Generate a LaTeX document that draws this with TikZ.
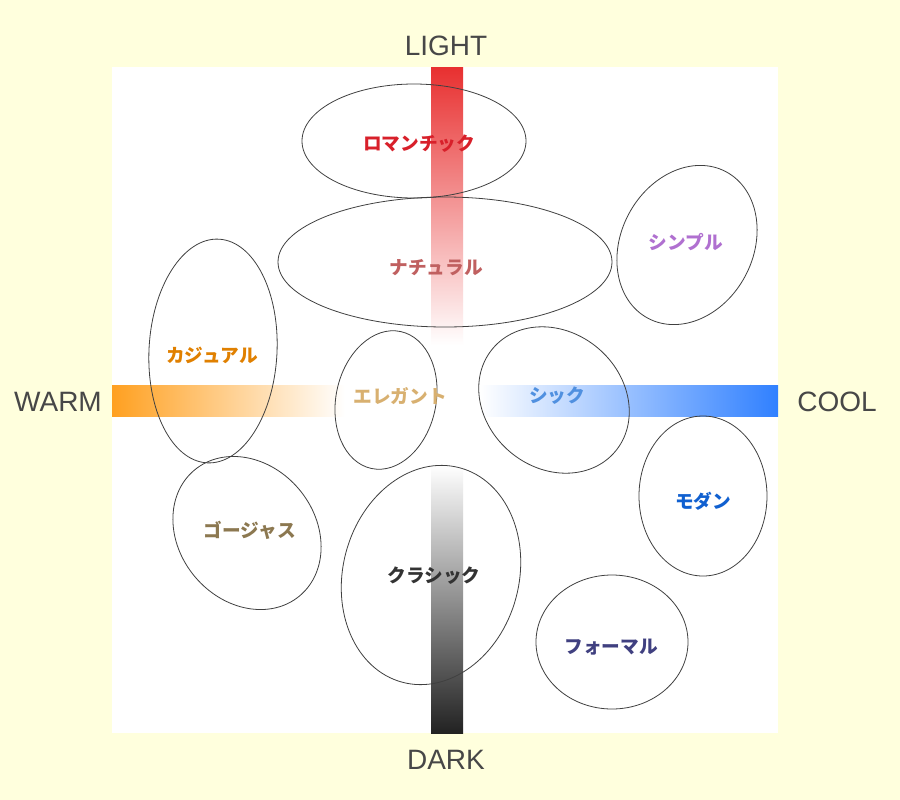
\documentclass[tikz,border=0pt]{standalone}
\usepackage{fontspec}
\setmainfont{Liberation Sans}
\newfontfamily\jp{Noto Sans CJK JP}
\begin{document}
\begin{tikzpicture}[x=0.75pt,y=-0.75pt]
\tikzset{ell/.style={draw=black!75,line width=0.6pt},
 jl/.style={font=\jp\bfseries\fontsize{14}{16}\selectfont},
 ax/.style={font=\fontsize{21}{24}\selectfont,text=black!72}}
\fill[fill={rgb,255:red,255;green,255;blue,221}] (0,0) rectangle (900,800);
\useasboundingbox (0,0) rectangle (900,800);
\fill[white] (112,67) rectangle (778,733);
\shade[top color={rgb,255:red,232;green,48;blue,48}, bottom color=white] (431,67) rectangle (463,345);
\shade[top color=white, bottom color={rgb,255:red,34;green,34;blue,34}] (431,465) rectangle (463,733);
\shade[left color={rgb,255:red,255;green,160;blue,32}, right color=white] (112,385) rectangle (345,416);
\shade[left color=white, right color={rgb,255:red,48;green,128;blue,255}] (480,385) rectangle (778,416);
\draw[ell] (414,141) ellipse [x radius=112, y radius=57];
\draw[ell] (445,262) ellipse [x radius=167, y radius=65];
\draw[ell,rotate around={-28:(687,245)}] (687,245) ellipse [x radius=66, y radius=83];
\draw[ell,rotate around={-3:(213,351)}] (213,351) ellipse [x radius=64, y radius=112];
\draw[ell,rotate around={-12:(386,400)}] (386,400) ellipse [x radius=50, y radius=70];
\draw[ell,rotate around={-40:(554,400)}] (554,400) ellipse [x radius=80, y radius=68];
\draw[ell] (703,496) ellipse [x radius=64, y radius=80];
\draw[ell,rotate around={40:(247,533)}] (247,533) ellipse [x radius=68, y radius=82];
\draw[ell,rotate around={-15:(431,575)}] (431,575) ellipse [x radius=88, y radius=111];
\draw[ell] (612,642) ellipse [x radius=76, y radius=67];
\node[jl,text={rgb,255:red,216;green,32;blue,42}] (r) at (419,144) {ロマンチック};
\node[jl,text={rgb,255:red,192;green,96;blue,96}] (n) at (436,268) {ナチュラル};
\node[jl,text={rgb,255:red,176;green,112;blue,208}] (s) at (686,242) {シンプル};
\node[jl,text={rgb,255:red,224;green,128;blue,0}] (c) at (212,355) {カジュアル};
\node[jl,text={rgb,255:red,216;green,176;blue,112}] (e) at (400,396) {エレガント};
\node[jl,text={rgb,255:red,80;green,144;blue,224}] (sh) at (557,396) {シック};
\node[jl,text={rgb,255:red,16;green,96;blue,208}] (m) at (703,501) {モダン};
\node[jl,text={rgb,255:red,140;green,120;blue,80}] (g) at (250,530) {ゴージャス};
\node[jl,text=black!80] (k) at (434,576) {クラシック};
\node[jl,text={rgb,255:red,64;green,64;blue,128}] (f) at (611,647) {フォーマル};
\node[ax] (l) at (446,46) {LIGHT};
\node[ax] (d) at (446,760) {DARK};
\node[ax] (w) at (58,402) {WARM};
\node[ax] (co) at (837,402) {COOL};
\end{tikzpicture}
\end{document}
